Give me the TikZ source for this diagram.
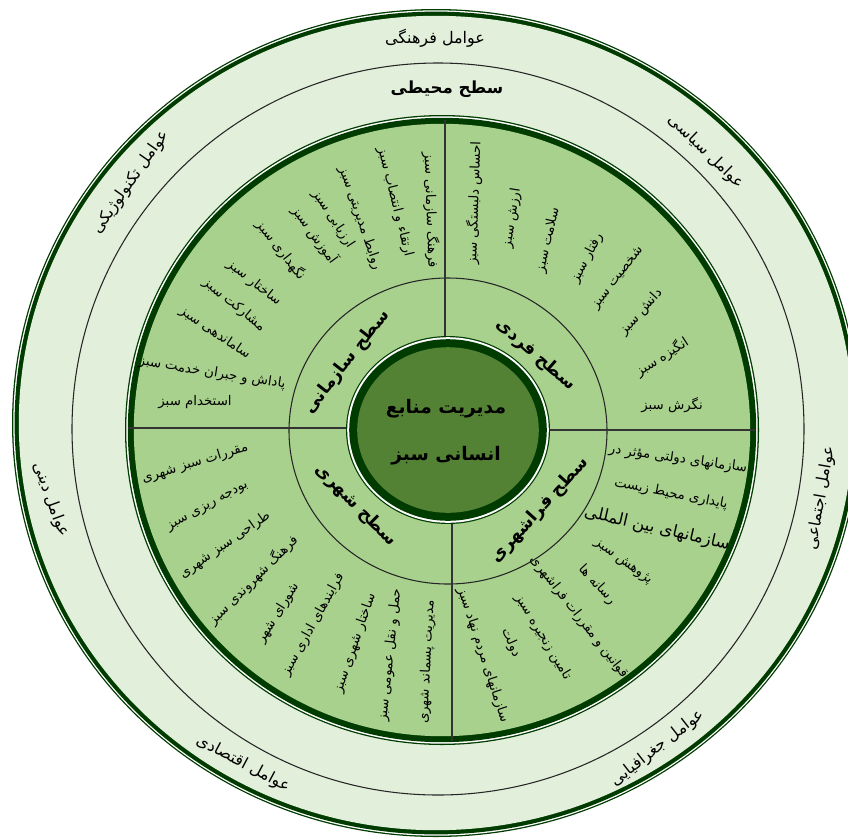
\documentclass[tikz,border=0pt]{standalone}
\usepackage{fontspec}
\newfontfamily\fa[Script=Arabic]{DejaVu Sans}
\TeXXeTstate=1
\newcommand{\rtltext}[1]{\beginR#1\endR}

\definecolor{ringdark}{HTML}{003C00}
\definecolor{outerfill}{HTML}{E2EFDA}
\definecolor{mainfill}{HTML}{A9D18E}
\definecolor{innerfill}{HTML}{548235}

\tikzset{
  factor/.style={font=\fa\fontsize{12}{14}\selectfont, inner sep=1pt},
  item/.style={font=\fa\fontsize{10}{12}\selectfont, inner sep=1pt},
  bigitem/.style={font=\fa\fontsize{12.5}{14}\selectfont, inner sep=1pt},
  level/.style={font=\fa\bfseries\fontsize{13}{15}\selectfont, inner sep=1pt},
  core/.style={font=\fa\bfseries\fontsize{14}{16}\selectfont, inner sep=1pt},
  divider/.style={draw=black!80, line width=0.8pt},
  ringline/.style={draw=black!85, line width=0.8pt}
}

\begin{document}
\begin{tikzpicture}[x=0.75pt, y=-0.75pt]

\fill[white] (0,0) rectangle (848,839);
\clip (0,0) rectangle (848,839);

% Outer ring (factors)
\fill[ringdark] (436,423) ellipse [x radius=424, y radius=414];
\fill[white] (436,423) ellipse [x radius=422.7, y radius=412.7];
\fill[ringdark] (436,423) ellipse [x radius=421.4, y radius=411.4];
\fill[outerfill] (436,423) ellipse [x radius=417.2, y radius=407.2];

% Boundary of the environment level
\draw[ringline] (438,429) circle [radius=366];

% Main disc
\fill[ringdark] (442,430) ellipse [x radius=317, y radius=315];
\fill[white] (442,430) ellipse [x radius=315.7, y radius=313.7];
\fill[ringdark] (442,430) ellipse [x radius=314.2, y radius=312.2];
\fill[mainfill] (442,430) ellipse [x radius=308.2, y radius=306.2];

% Levels circle
\draw[ringline] (448,431) ellipse [x radius=159, y radius=153];

% Dividers
\draw[divider] (445,120) -- (445,340);
\draw[divider] (452,520) -- (452,741);
\draw[divider] (128,428) -- (352,428);
\draw[divider] (545,430) -- (755,430);

% Core disc
\fill[ringdark] (448,430) ellipse [x radius=102, y radius=94];
\fill[white] (448,430) ellipse [x radius=100.8, y radius=92.8];
\fill[ringdark] (448,430) ellipse [x radius=98.8, y radius=90.8];
\fill[innerfill] (448,430) ellipse [x radius=90.8, y radius=82.8];

% Core label
\node[core] (core1) at (446,409) {\rtltext{مدیریت منابع}};
\node[core] (core2) at (446,456) {\rtltext{انسانی سبز}};

% Environment level
\node[level, font=\fa\bfseries\fontsize{12.5}{15}\selectfont] (env) at (447,89) {\rtltext{سطح محیطی}};

% Factors
\node[factor] (f1) at (435,38) {\rtltext{عوامل فرهنگی}};
\node[factor, rotate=-44] (f2) at (706,152) {\rtltext{عوامل سیاسی}};
\node[factor, rotate=80] (f3) at (821,498) {\rtltext{عوامل اجتماعی}};
\node[factor, rotate=38] (f4) at (658,748) {\rtltext{عوامل جغرافیایی}};
\node[factor, rotate=-28] (f5) at (243,764) {\rtltext{عوامل اقتصادی}};
\node[factor, rotate=-70] (f6) at (51,500) {\rtltext{عوامل دینی}};
\node[factor, rotate=55] (f7) at (131,182) {\rtltext{عوامل تکنولوژیکی}};

% Levels
\node[level, rotate=-41] (lv1) at (536,355) {\rtltext{سطح فردی}};
\node[level, rotate=52] (lv2) at (347,362) {\rtltext{سطح سازمانی}};
\node[level, rotate=-45] (lv3) at (356,505) {\rtltext{سطح شهری}};
\node[level, rotate=48] (lv4) at (540,510) {\rtltext{سطح فراشهری}};

% Organizational items
\node[item, rotate=-88] (o1) at (431,210) {\rtltext{فرهنگ سازمانی سبز}};
\node[item, rotate=-76] (o2) at (395,202) {\rtltext{ارتقاء و انتصاب سبز}};
\node[item, rotate=-71] (o3) at (360,218) {\rtltext{روابط مدیریتی سبز}};
\node[item, rotate=-57] (o4) at (333,219) {\rtltext{ارزیابی سبز}};
\node[item, rotate=-54] (o5) at (315,235) {\rtltext{آموزش سبز}};
\node[item, rotate=-52] (o6) at (281,250) {\rtltext{نگهداری سبز}};
\node[item, rotate=-38] (o7) at (254,283) {\rtltext{ساختار سبز}};
\node[item, rotate=-39] (o8) at (234,305) {\rtltext{مشارکت سبز}};
\node[item, rotate=-34] (o9) at (215,333) {\rtltext{ساماندهی سبز}};
\node[item, rotate=-9] (o10) at (212,373) {\rtltext{پاداش و جبران خدمت سبز}};
\node[item] (o11) at (195,402) {\rtltext{استخدام سبز}};

% Individual items
\node[item, rotate=88] (i1) at (474,203) {\rtltext{احساس دلبستگی سبز}};
\node[item, rotate=81] (i2) at (512,218) {\rtltext{ارزش سبز}};
\node[item, rotate=77] (i3) at (548,240) {\rtltext{سلامت سبز}};
\node[item, rotate=62] (i4) at (587,258) {\rtltext{رفتار سبز}};
\node[item, rotate=52] (i5) at (618,278) {\rtltext{شخصیت سبز}};
\node[item, rotate=48] (i6) at (641,312) {\rtltext{دانش سبز}};
\node[item, rotate=33] (i7) at (662,357) {\rtltext{انگیزه سبز}};
\node[item] (i8) at (672,405) {\rtltext{نگرش سبز}};

% Urban items
\node[item, rotate=17] (u1) at (195,463) {\rtltext{مقررات سبز شهری}};
\node[item, rotate=29] (u2) at (208,507) {\rtltext{بودجه ریزی سبز}};
\node[item, rotate=35] (u3) at (225,545) {\rtltext{طراحی سبز شهری}};
\node[item, rotate=45] (u4) at (253,580) {\rtltext{فرهنگ شهروندی سبز}};
\node[item, rotate=58] (u5) at (278,613) {\rtltext{شورای شهر}};
\node[item, rotate=61] (u6) at (313,625) {\rtltext{فرایندهای اداری سبز}};
\node[item, rotate=71] (u7) at (355,643) {\rtltext{ساختار شهری سبز}};
\node[item, rotate=84] (u8) at (390,655) {\rtltext{حمل و نقل عمومی سبز}};
\node[item, rotate=87] (u9) at (427,662) {\rtltext{مدیریت پسماند شهری}};

% Supra-urban items
\node[item, rotate=-8] (s1) at (678,459) {\rtltext{سازمانهای دولتی مؤثر در}};
\node[item, rotate=-11] (s2) at (671,494) {\rtltext{پایداری محیط زیست}};
\node[bigitem, rotate=-13] (s3) at (657,529) {\rtltext{سازمانهای بین المللی}};
\node[item, rotate=-36] (s4) at (623,562) {\rtltext{پژوهش سبز}};
\node[item, rotate=-47] (s5) at (597,585) {\rtltext{رسانه ها}};
\node[item, rotate=-52] (s6) at (579,617) {\rtltext{قوانین و مقررات فراشهری}};
\node[item, rotate=-59] (s7) at (543,637) {\rtltext{تامین زنجیره سبز}};
\node[item, rotate=-66] (s8) at (511,643) {\rtltext{دولت}};
\node[item, rotate=-72] (s9) at (483,655) {\rtltext{سازمانهای مردم نهاد سبز}};

\end{tikzpicture}
\end{document}
